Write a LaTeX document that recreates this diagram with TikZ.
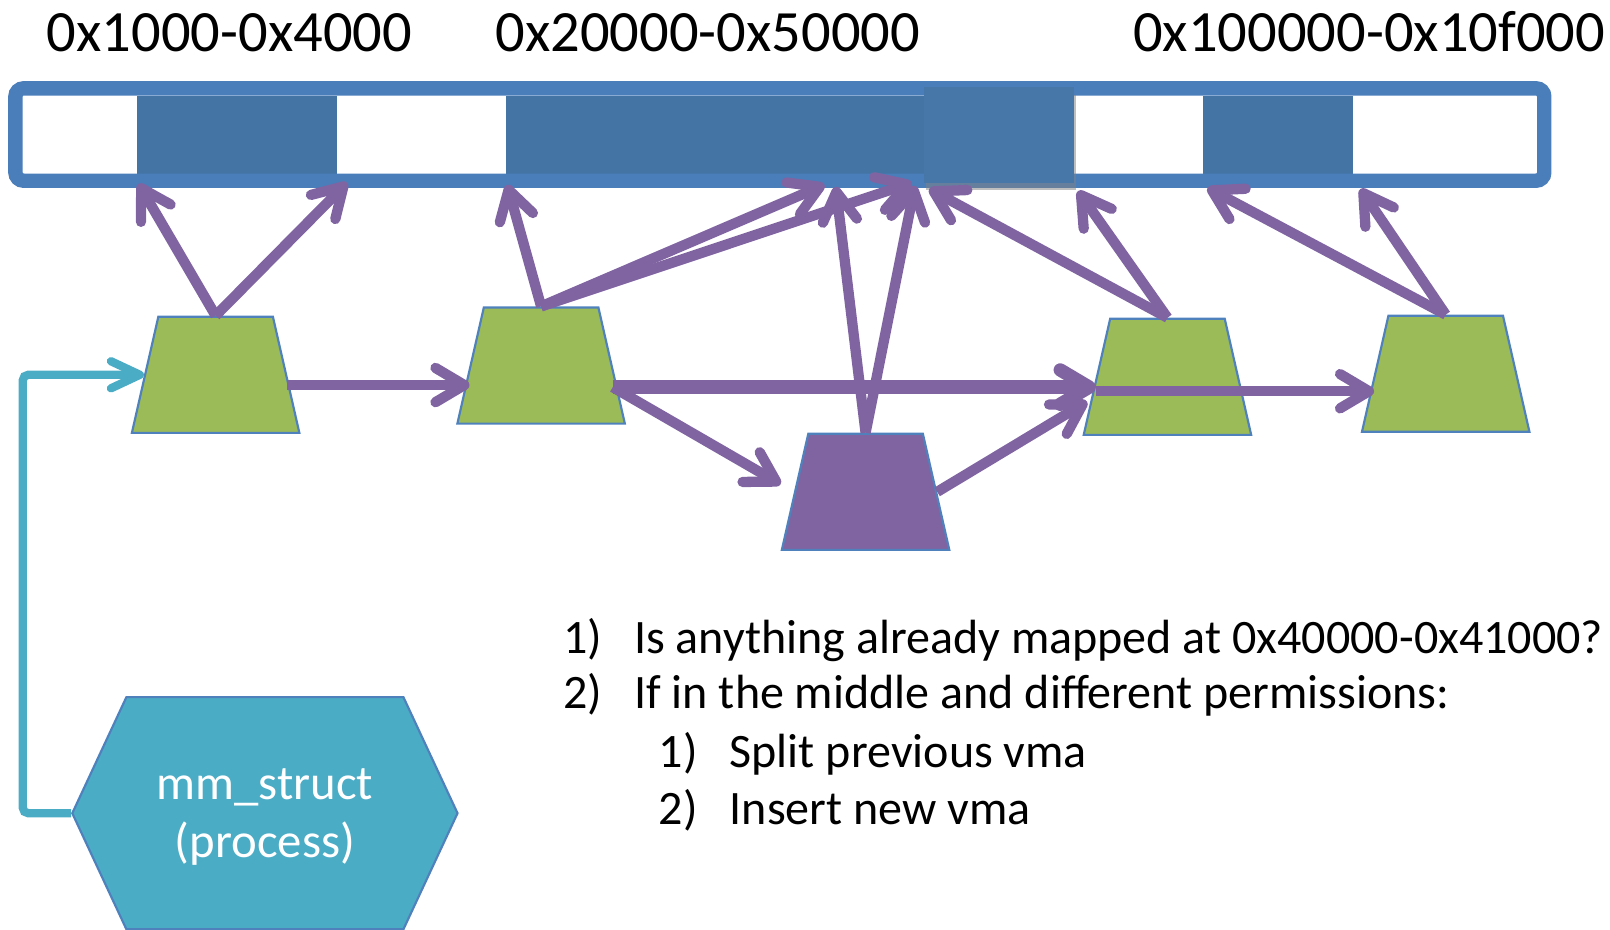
\documentclass[tikz,border=0pt]{standalone}
\usepackage{fontspec}
\setmainfont{Carlito}
\usetikzlibrary{positioning, arrows.meta}
\usetikzlibrary{shapes.geometric, shapes.symbols, shadows}
\definecolor{barblue}{HTML}{4A7EBB}
\definecolor{cellblue}{HTML}{4474A4}
\definecolor{newcell}{HTML}{4677A8}
\definecolor{vmagreen}{HTML}{9BBB59}
\definecolor{vmapurple}{HTML}{8064A2}
\definecolor{mmcyan}{HTML}{4BACC6}
\definecolor{edgeblue}{HTML}{4F81BD}
\tikzset{
    vma/.style={trapezium, trapezium left angle=77, trapezium right angle=77, trapezium stretches=true,
      minimum width=1.63cm, minimum height=1.13cm, inner sep=2pt, fill=vmagreen, draw=edgeblue, line width=0.6pt},
    newvma/.style={vma, fill=vmapurple},
    mmbox/.style={signal, signal to=west and east, signal pointer angle=130, minimum width=3.75cm, minimum height=2.26cm,
      inner sep=2pt, fill=mmcyan, draw=edgeblue, line width=0.6pt},
    mmtext/.style={text=white, align=center, font=\fontsize{13.5}{16}\selectfont},
    link/.style={draw=vmapurple, line width=2.85pt, -{Straight Barb[round,length=8pt,width=9.5pt]}},
    biglink/.style={link, line width=3.7pt},
    mmlink/.style={draw=mmcyan, line width=2.3pt, rounded corners=1.5pt, -{Straight Barb[round,length=8pt,width=7.5pt]}},
    addr/.style={inner sep=0pt, anchor=base west, font=\fontsize{16.2}{19}\selectfont},
    listline/.style={inner sep=0pt, anchor=base west, font=\fontsize{13.3}{16}\selectfont},
}
\begin{document}
\begin{tikzpicture}[x=0.01cm, y=-0.01cm]
	\useasboundingbox (0,0) rectangle (1568,905);
	\pgfmathsetmacro\celltop{93}
	\pgfmathsetmacro\cellbot{170}

	% address ranges
	\node[addr] (a1) at (45,50) {0x1000-0x4000};
	\node[addr] (a2) at (482,50) {0x20000-0x50000};
	\node[addr] (a3) at (1103,50) {0x100000-0x10f000};

	% address space
	\foreach \l/\r in {133/328, 493/900, 1172/1318}
		\fill[cellblue] (\l,\celltop) rectangle (\r,\cellbot);
	\draw[barblue, line width=0.14cm, rounded corners=0.08cm] (15,86) rectangle (1504,176);
	\fill[newcell, drop shadow={opacity=0.5, shadow xshift=0.5pt, shadow yshift=-2pt}] (900,85) rectangle (1046,178);

	% vmas
	\node[vma] (t1) at (210,365) {};
	\node[vma] (t2) at (527,356) {};
	\node[newvma] (t3) at (843,479) {};
	\node[vma] (t4) at (1137,367) {};
	\node[vma] (t5) at (1408,364) {};

	\node[mmbox] (mm) at (258,792) {};
	\node[mmtext] (mmlabel) at (258,796) {mm\_struct\\(process)};

	\foreach \name/\x/\y in {b1/135/179, b2/338/178, b3/494/180, b4/803/180, b5/888/178, b6/814/182,
		b7/891/181, b8/905/184, b9/1050/186, b10/1176/183, b11/1325/184}
		\coordinate (\name) at (\x,\y);
	\coordinate (r1) at (0,375);
	\coordinate (r2) at (0,377);
	\coordinate (r3) at (0,381);
	\coordinate (r4) at (0,386);

	\foreach \from/\to in {t1/b1, t1/b2, t2/b3, t2/b4, t2/b5, t3/b6, t3/b7, t4/b8, t4/b9, t5/b10, t5/b11}
		\draw[link] (\from.north) -- (\to);

	\draw[link] (t1.east |- r1) -- (t2.west |- r1);
	\draw[biglink] (t2.east |- r2) -- (t4.west |- r2);
	\draw[link, shorten >=0.15cm] (t2.east |- r2) -- (t3.west);
	\draw[link, shorten >=0.1cm] (t3.east) -- (t4.west |- r4);
	\draw[link] (t4.west |- r3) -- (t5.west |- r3);

	\draw[mmlink] (mm.west) -- ++(-47,0) |- (t1.west);

	% steps
	\node[listline] (n1) at (548,636) {1)};
	\node[listline] (l1) at (617,636) {Is anything already mapped at 0x40000-0x41000?};
	\node[listline] (n2) at (548,690) {2)};
	\node[listline] (l2) at (617,690) {If in the middle and different permissions:};
	\node[listline] (n3) at (641,747) {1)};
	\node[listline] (l3) at (710,747) {Split previous vma};
	\node[listline] (n4) at (641,803) {2)};
	\node[listline] (l4) at (710,803) {Insert new vma};
\end{tikzpicture}
\end{document}
